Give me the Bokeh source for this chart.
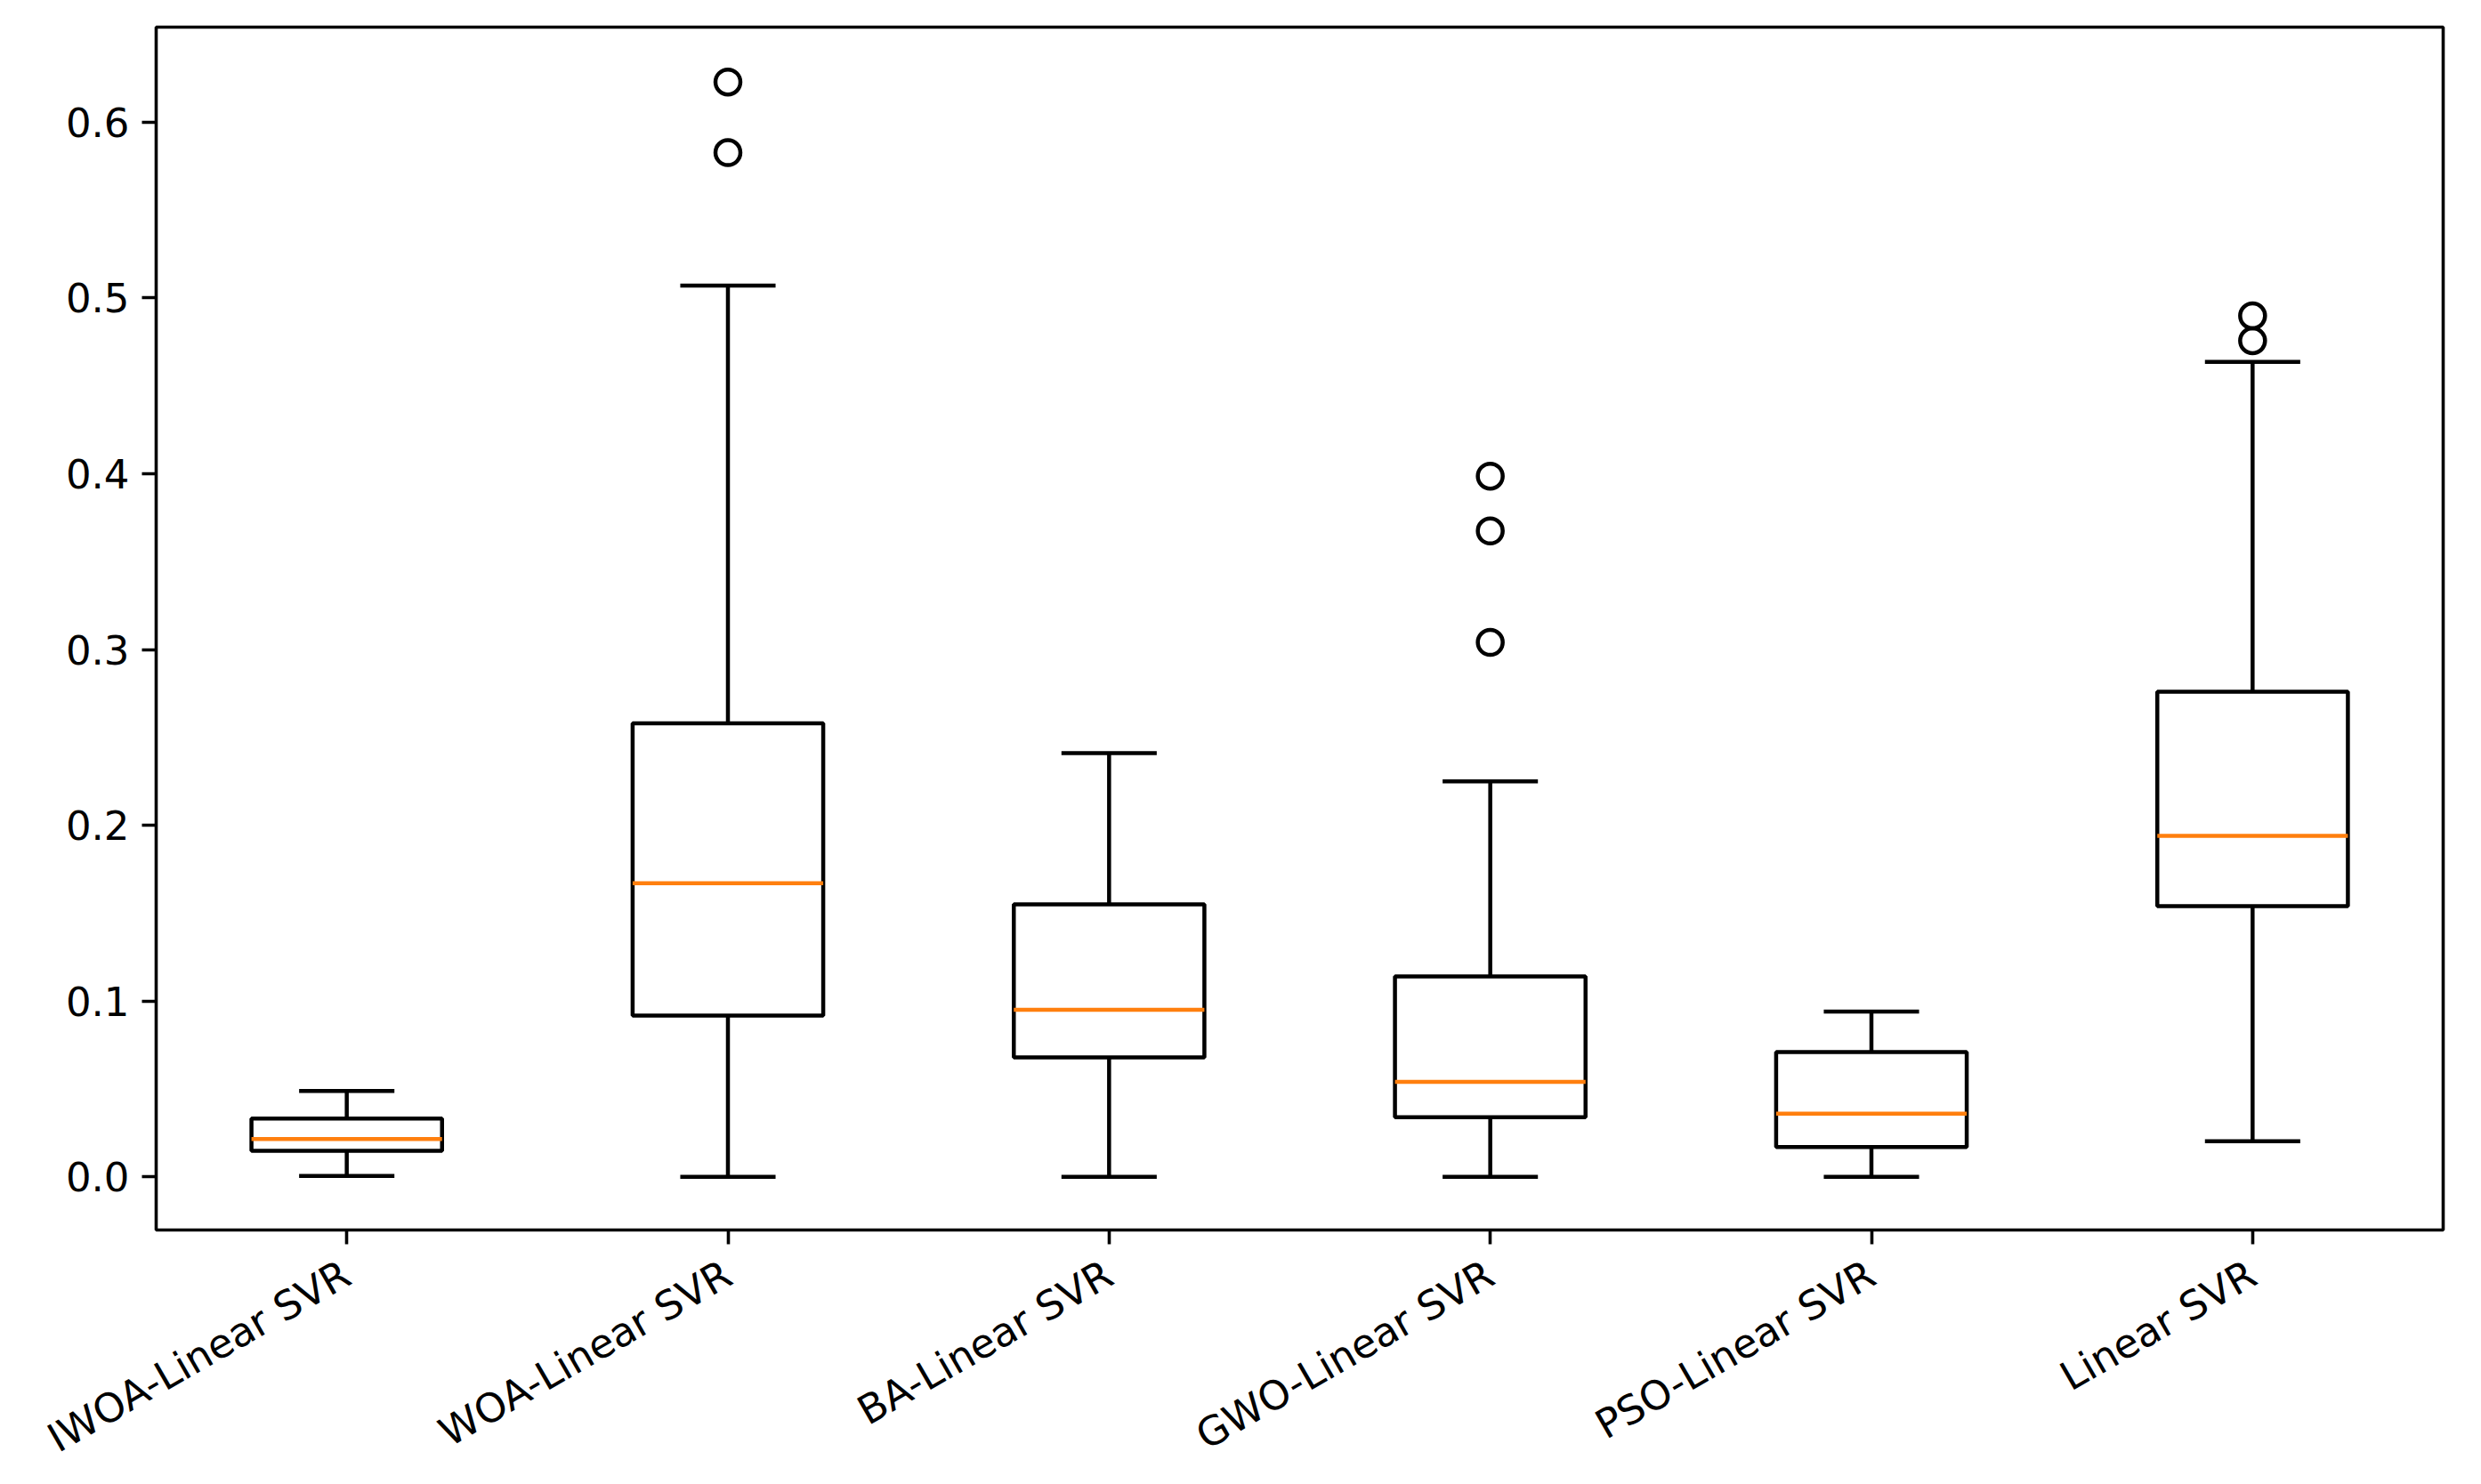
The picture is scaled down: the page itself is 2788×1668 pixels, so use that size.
from bokeh.plotting import figure
from bokeh.models import Range1d, FixedTicker, PrintfTickFormatter, ColumnDataSource
from bokeh.embed import file_html
from bokeh.resources import INLINE
import math

categories = ["IWOA-Linear SVR", "WOA-Linear SVR", "BA-Linear SVR",
              "GWO-Linear SVR", "PSO-Linear SVR", "Linear SVR"]
whisker_low = [0.0005, 0.0, 0.0, 0.0, 0.0, 0.0203]
q1 = [0.0148, 0.0917, 0.068, 0.034, 0.017, 0.154]
median = [0.0216, 0.167, 0.095, 0.054, 0.036, 0.194]
q3 = [0.0332, 0.258, 0.155, 0.114, 0.071, 0.276]
whisker_high = [0.0489, 0.507, 0.241, 0.225, 0.094, 0.4636]
outliers = [[], [0.5826, 0.6228], [], [0.304, 0.3674, 0.3986], [], [0.4756, 0.4898]]
y_ticks = [0.0, 0.1, 0.2, 0.3, 0.4, 0.5, 0.6]

pos = [i + 1 for i in range(len(categories))]
box_w = 0.5
cap_w = 0.25

LW = 4.5
FONT = "DejaVu Sans"
FS = "45px"
Y0, Y1 = -0.0302, 0.654

p = figure(output_backend="svg", toolbar_location=None,
           frame_width=2570, frame_height=1352,
           x_range=Range1d(0.5, 6.5), y_range=Range1d(Y0, Y1),
           min_border_left=175, min_border_top=30, min_border_right=35,
           min_border_bottom=278)
p.background_fill_color = "white"
p.border_fill_color = "white"
p.grid.visible = False
p.outline_line_color = "black"
p.outline_line_width = 3.6

src = ColumnDataSource(dict(
    x=pos,
    left=[x - box_w / 2 for x in pos],
    right=[x + box_w / 2 for x in pos],
    cl=[x - cap_w / 2 for x in pos],
    cr=[x + cap_w / 2 for x in pos],
    lo=whisker_low, q1=q1, med=median, q3=q3, hi=whisker_high,
))

# whiskers
p.segment(x0="x", y0="q1", x1="x", y1="lo", source=src, line_color="black", line_width=LW)
p.segment(x0="x", y0="q3", x1="x", y1="hi", source=src, line_color="black", line_width=LW)
# caps
p.segment(x0="cl", y0="lo", x1="cr", y1="lo", source=src, line_color="black", line_width=LW)
p.segment(x0="cl", y0="hi", x1="cr", y1="hi", source=src, line_color="black", line_width=LW)
# boxes
p.quad(left="left", right="right", bottom="q1", top="q3", source=src,
       fill_color=None, line_color="black", line_width=LW)
# medians
p.segment(x0="left", y0="med", x1="right", y1="med", source=src,
          line_color="#ff7f0e", line_width=LW)

# outliers
ox, oy = [], []
for x, vals in zip(pos, outliers):
    for v in vals:
        ox.append(x)
        oy.append(v)
p.scatter(ox, oy, marker="circle", size=28, fill_color=None,
          line_color="black", line_width=LW)

# axes
for ax in (p.xaxis[0], p.yaxis[0]):
    ax.axis_line_color = None
    ax.major_tick_line_color = "black"
    ax.major_tick_line_width = 3.6
    ax.major_tick_out = 16
    ax.major_tick_in = 0
    ax.minor_tick_line_color = None
    ax.major_label_text_font = FONT
    ax.major_label_text_font_size = FS
    ax.major_label_text_color = "black"
    ax.major_label_standoff = 14

p.yaxis.ticker = FixedTicker(ticks=y_ticks)
p.yaxis.formatter = PrintfTickFormatter(format="%.1f")

p.xaxis.ticker = FixedTicker(ticks=pos)
p.xaxis.major_label_overrides = {x: c for x, c in zip(pos, categories)}
p.xaxis.major_label_orientation = math.pi / 6
p.xaxis.major_label_standoff = 30

open("out.html", "w").write(file_html(p, INLINE))
